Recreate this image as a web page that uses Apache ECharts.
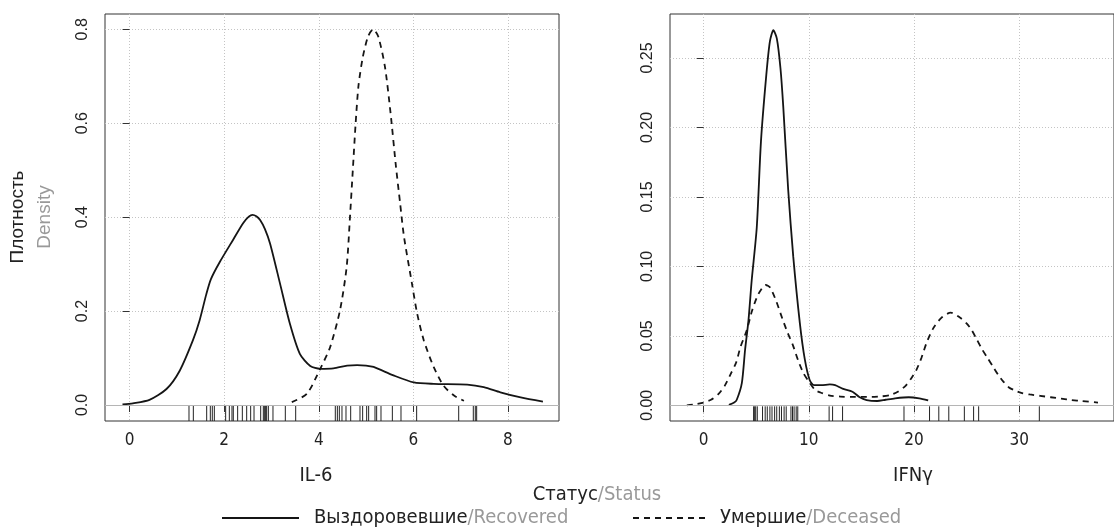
<!DOCTYPE html>
<html><head><meta charset="utf-8">
<script src="https://cdn.jsdelivr.net/npm/echarts@6/dist/echarts.min.js"></script>
<style>html,body{margin:0;padding:0;background:#fff}#c{width:1114px;height:530px}</style>
</head><body><div id="c"></div>
<script>
// ---------- data ----------
const statusNames = ['Выздоровевшие/Recovered', 'Умершие/Deceased'];

const il6Recovered = [[-0.15,0.001],[0.07,0.0036],[0.42,0.011],[0.78,0.034],[1.06,0.073],[1.34,0.138],[1.48,0.18],[1.62,0.235],[1.72,0.268],[1.91,0.305],[2.19,0.352],[2.40,0.387],[2.52,0.401],[2.60,0.405],[2.68,0.402],[2.76,0.394],[2.86,0.375],[2.97,0.344],[3.18,0.259],[3.39,0.173],[3.60,0.109],[3.82,0.083],[4.03,0.077],[4.31,0.078],[4.60,0.084],[4.81,0.085],[5.0,0.084],[5.16,0.081],[5.58,0.063],[6.01,0.048],[6.43,0.045],[7.14,0.0435],[7.49,0.038],[7.84,0.027],[8.27,0.016],[8.74,0.007]];
const il6Deceased = [[3.43,0.006],[3.75,0.024],[4.03,0.077],[4.24,0.123],[4.45,0.202],[4.59,0.294],[4.66,0.40],[4.72,0.50],[4.78,0.60],[4.84,0.68],[4.93,0.74],[5.04,0.784],[5.15,0.80],[5.26,0.784],[5.40,0.72],[5.52,0.62],[5.63,0.51],[5.72,0.43],[5.80,0.36],[5.97,0.259],[6.08,0.195],[6.22,0.138],[6.43,0.081],[6.64,0.041],[6.86,0.020],[7.07,0.009]];
const il6Rug = [1.256,1.348,1.630,1.707,1.749,1.792,2.031,2.109,2.165,2.193,2.285,2.384,2.476,2.560,2.631,2.772,2.828,2.856,2.877,2.898,2.934,3.032,3.293,3.512,4.350,4.393,4.435,4.491,4.576,4.675,4.872,4.928,5.013,5.055,5.189,5.224,5.316,5.556,5.739,6.070,6.959,7.268,7.310,7.339];

const ifngRecovered = [[2.4,0.0003],[2.9,0.002],[3.15,0.004],[3.63,0.016],[3.94,0.040],[4.26,0.061],[4.57,0.090],[5.05,0.128],[5.45,0.19],[5.96,0.238],[6.3,0.262],[6.63,0.270],[6.96,0.264],[7.3,0.243],[7.57,0.215],[8.04,0.155],[8.52,0.107],[9.15,0.059],[9.62,0.033],[10.09,0.018],[10.5,0.0145],[11.2,0.0145],[12.0,0.015],[12.5,0.0145],[13.2,0.012],[14.15,0.0098],[14.8,0.006],[15.5,0.0038],[16.5,0.0031],[17.3,0.004],[18.2,0.005],[19.5,0.0058],[20.5,0.005],[21.35,0.0035]];
const ifngDeceased = [[-1.6,0],[-0.8,0.0008],[0,0.002],[0.7,0.004],[1.4,0.008],[2.0,0.014],[2.6,0.023],[3.1,0.031],[3.5,0.042],[4.1,0.054],[4.6,0.068],[5.2,0.080],[5.9,0.0866],[6.3,0.085],[6.9,0.075],[7.5,0.062],[8.0,0.052],[8.5,0.043],[9.0,0.032],[9.5,0.023],[10.1,0.016],[10.6,0.011],[11.1,0.0092],[12.0,0.007],[13.0,0.0063],[14.0,0.006],[15.0,0.006],[16.0,0.006],[17.0,0.0065],[17.8,0.0075],[18.5,0.010],[19.2,0.014],[19.7,0.019],[20.2,0.025],[20.7,0.034],[21.2,0.045],[21.8,0.055],[22.6,0.063],[23.5,0.0667],[24.4,0.063],[25.0,0.059],[25.5,0.054],[26.0,0.047],[26.5,0.040],[27.0,0.034],[27.5,0.028],[28.0,0.022],[28.5,0.017],[29.0,0.013],[29.5,0.011],[30.2,0.009],[31.0,0.0078],[32.0,0.0068],[33.0,0.0058],[34.0,0.0048],[35.0,0.0038],[36.0,0.003],[37.5,0.002]];
const ifngRug = [4.75,4.85,4.95,5.1,5.6,5.85,6.05,6.3,6.5,6.75,6.95,7.2,7.4,7.65,7.85,8.3,8.45,8.6,8.8,8.95,11.93,12.26,13.21,19.05,21.48,22.36,23.31,24.79,25.67,26.15,31.92];

const il6XTicks = [0,2,4,6,8];
const il6YTicks = [0,0.2,0.4,0.6,0.8];
const ifngXTicks = [0,10,20,30];
const ifngYTicks = [0,0.05,0.10,0.15,0.20,0.25];

// ---------- styling ----------
const narrow = "'Liberation Sans Narrow','DejaVu Sans Condensed','Roboto',sans-serif";
const reg = "'Liberation Sans',Arial,sans-serif";
const gridLine = {show:true, lineStyle:{color:'#c4c4c4', type:[1,2], width:1}};
const frame = {show:true, borderColor:'#333', borderWidth:1, backgroundColor:'transparent'};

function xAxis(idx, min, max, ticks) {
  return {type:'value', gridIndex:idx, min, max,
    axisLine:{show:false},
    axisTick:{show:true, customValues:ticks, length:7, lineStyle:{color:'#333'}},
    axisLabel:{show:true, customValues:ticks, margin:11, fontFamily:narrow, fontSize:17, color:'#222'},
    splitLine:gridLine};
}
function yAxis(idx, min, max, ticks, dec) {
  return {type:'value', gridIndex:idx, min, max,
    axisLine:{show:false},
    axisTick:{show:true, customValues:ticks, length:7, lineStyle:{color:'#333'}},
    axisLabel:{show:true, customValues:ticks, rotate:90, margin:14, fontFamily:reg, fontSize:16, color:'#222',
      formatter: v => v.toFixed(dec)},
    splitLine:gridLine};
}
const zeroLine = {silent:true, symbol:['none','none'], label:{show:false},
  lineStyle:{color:'#b5b5b5', type:'solid', width:1}, data:[{yAxis:0}]};

function curve(name, data, gi, dashed, withZero) {
  const s = {type:'line', name, data, xAxisIndex:gi, yAxisIndex:gi, symbol:'none',
    smooth:0.25,
    lineStyle:{color:'#151515', width:1.8, type: dashed ? [6,5] : 'solid'},
    itemStyle:{color:'#151515'}, z:3};
  if (withZero) s.markLine = zeroLine;
  return s;
}
function rug(name, values, gi) {
  return {type:'custom', name, xAxisIndex:gi, yAxisIndex:gi, data: values.map(v => [v]),
    silent:true, z:4,
    renderItem(params, api) {
      const x = api.value(0);
      const p0 = api.coord([x, 0]);
      const bottom = params.coordSys.y + params.coordSys.height;
      return {type:'line', shape:{x1:p0[0], y1:p0[1] + 1, x2:p0[0], y2:bottom},
        style:{stroke:'#222', lineWidth:1}};
    }};
}
function legendItem(name, left, gap) {
  return {data:[name], left, top:508, padding:0, itemWidth:77, itemHeight:14, selectedMode:false,
    itemStyle:{opacity:0},
    formatter: n => { const p = n.split('/'); return '{a|' + p[0] + '}{b|/' + p[1] + '}'; },
    textStyle:{fontFamily:narrow, fontSize:20, padding:[0,0,0,gap],
      rich:{a:{color:'#222', fontFamily:narrow, fontSize:20}, b:{color:'#999', fontFamily:narrow, fontSize:20}}}};
}

const chart = echarts.init(document.getElementById('c'), null, {renderer:'canvas'});
chart.setOption({
  animation:false,
  backgroundColor:'#fff',
  grid:[
    Object.assign({left:105, top:14, width:454, height:407}, frame),
    Object.assign({left:670, top:14, width:446, height:407}, frame)
  ],
  xAxis:[xAxis(0, -0.52, 9.08, il6XTicks), xAxis(1, -3.2, 39.02, ifngXTicks)],
  yAxis:[yAxis(0, -0.0341, 0.8326, il6YTicks, 1), yAxis(1, -0.0113, 0.2817, ifngYTicks, 2)],
  legend:[legendItem(statusNames[0], 221, 10), legendItem(statusNames[1], 632, 5)],
  graphic:[
    {type:'text', x:31, y:217, rotation:Math.PI/2,
      style:{text:'{a|Плотность}\n{b|Density}', align:'center', verticalAlign:'middle',
        rich:{a:{fill:'#222', fontFamily:reg, fontSize:19, lineHeight:27}, b:{fill:'#999', fontFamily:reg, fontSize:19, lineHeight:27}}}},
    {type:'text', x:316, y:476, style:{text:'IL-6', align:'center', verticalAlign:'middle', fill:'#222', fontFamily:narrow, fontSize:20}},
    {type:'text', x:913, y:476, style:{text:'IFNγ', align:'center', verticalAlign:'middle', fill:'#222', fontFamily:narrow, fontSize:20}},
    {type:'text', x:597, y:495, style:{text:'{a|Статус}{b|/Status}', align:'center', verticalAlign:'middle',
      rich:{a:{fill:'#222', fontFamily:narrow, fontSize:20}, b:{fill:'#999', fontFamily:narrow, fontSize:20}}}}
  ],
  series:[
    curve(statusNames[0], il6Recovered, 0, false, true),
    curve(statusNames[1], il6Deceased, 0, true, false),
    curve(statusNames[0], ifngRecovered, 1, false, true),
    curve(statusNames[1], ifngDeceased, 1, true, false),
    rug('rug IL-6', il6Rug, 0),
    rug('rug IFNγ', ifngRug, 1)
  ]
});
</script></body></html>
